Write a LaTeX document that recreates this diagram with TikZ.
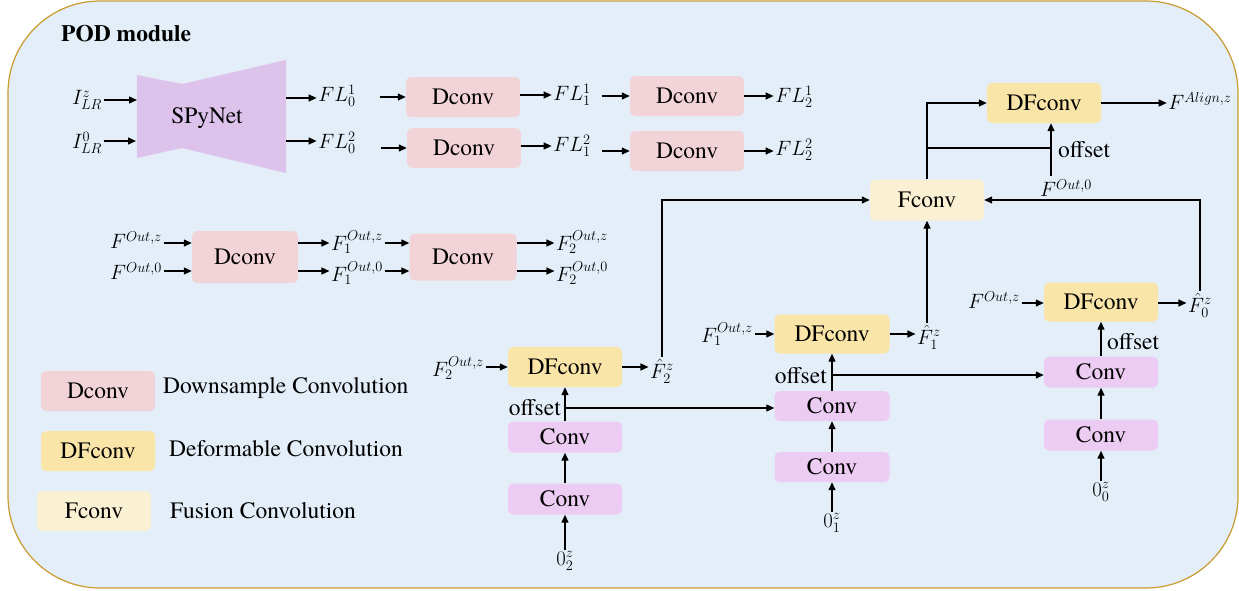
\documentclass[tikz,border=0pt]{standalone}
\usepackage{fontspec}
\IfFontExistsTF{texgyretermes-regular.otf}{%
  \setmainfont{texgyretermes}[Extension=.otf, UprightFont=*-regular, BoldFont=*-bold, ItalicFont=*-italic, BoldItalicFont=*-bolditalic]}{%
  \setmainfont{Latin Modern Roman}}
\usetikzlibrary{arrows.meta,calc}
\definecolor{bgfill}{HTML}{E3EEF8}
\definecolor{bgline}{HTML}{C99A2E}
\definecolor{dcol}{HTML}{F2D3D7}
\definecolor{dfcol}{HTML}{FAE5A8}
\definecolor{fcol}{HTML}{FAF0D3}
\definecolor{ccol}{HTML}{ECCCF2}
\definecolor{spcol}{HTML}{DDC3EC}
\newcommand\fs{\rmfamily\fontsize{23.5}{27}\selectfont}
\newcommand\ms{\fontsize{21}{24}\selectfont}
\tikzset{
  box/.style={rounded corners=5pt, inner sep=0pt, font=\fs, text height=15pt, text depth=1pt},
  dbox/.style={box, fill=dcol, minimum width=114pt, minimum height=40pt},
  dfbox/.style={box, fill=dfcol, minimum width=114pt, minimum height=40pt},
  fbox/.style={box, fill=fcol, minimum width=114pt, minimum height=40pt},
  cbox/.style={box, fill=ccol, minimum width=114pt, minimum height=31pt},
  lbl/.style={font=\ms, inner sep=1.5pt},
  txt/.style={font=\fs, inner sep=0pt, anchor=west},
  arr/.style={line width=1.3pt, -{Triangle[length=8pt,width=7pt]}},
  ln/.style={line width=1.3pt}
}
\begin{document}
\begin{tikzpicture}[x=1pt,y=-1pt]
\useasboundingbox (0,0) rectangle (1239,590);
\draw[fill=bgfill, draw=bgline, line width=1.2pt, rounded corners=92pt] (8,1) rectangle (1238,588);

\node[font=\fs\bfseries, anchor=west, inner sep=0pt] (title) at (61,34) {POD module};

% legend
\node[dbox] (lgD) at (98,391) {Dconv};
\node[txt] (lgDt) at (163,388) {Downsample Convolution};
\node[dfbox] (lgDF) at (98,451) {DFconv};
\node[txt] (lgDFt) at (169,449) {Deformable Convolution};
\node[fbox] (lgF) at (94,511) {Fconv};
\node[txt] (lgFt) at (170,511) {Fusion Convolution};

% SPyNet
\fill[spcol] (137,75) -- (182,84) -- (286,60) -- (286,173) -- (182,148) -- (137,158) -- cycle;
\node[font=\fs, inner sep=0pt] (spy) at (207,118) {SPyNet};
\coordinate (spin1) at (137,100);
\coordinate (spin2) at (136,141);
\coordinate (spout1) at (286,98);
\coordinate (spout2) at (286,141);
\node[lbl] (iz) at (87,100) {$I^{z}_{LR}$};
\node[lbl] (i0) at (87,143) {$I^{0}_{LR}$};
\draw[arr] (iz.east |- spin1) -- (spin1);
\draw[arr] (i0.east |- spin2) -- (spin2);
\node[lbl] (fl01) at (337,96) {$FL_0^1$};
\node[lbl] (fl02) at (337,143) {$FL_0^2$};
\draw[arr] (spout1) -- (spout1 -| fl01.west);
\draw[arr] (spout2) -- (spout2 -| fl02.west);

% flow Dconv rows
\node[dbox] (d11) at (463,97) {Dconv};
\node[dbox] (d21) at (464,148) {Dconv};
\node[dbox] (d12) at (687,96) {Dconv};
\node[dbox] (d22) at (687,151) {Dconv};
\node[lbl] (fl11) at (572,95) {$FL_1^1$};
\node[lbl] (fl12) at (572,146) {$FL_1^2$};
\node[lbl] (fl21) at (794,97) {$FL_2^1$};
\node[lbl] (fl22) at (794,150) {$FL_2^2$};
\draw[arr] ($(d11.west)+(-26,0)$) -- (d11.west);
\draw[arr] ($(d21.west)+(-26,0)$) -- (d21.west);
\draw[arr] (d11.east |- fl11) -- (fl11.west);
\draw[arr] (d21.east |- fl12) -- (fl12.west);
\draw[arr] ($(d12.west)+(-28,0)$) -- (d12.west);
\draw[arr] ($(d22.west)+(-28,0)$) -- (d22.west);
\draw[arr] (d12.east) -- (d12.east -| fl21.west);
\draw[arr] (d22.east) -- (d22.east -| fl22.west);

% F^Out Dconv group
\node[dbox, minimum width=106pt, minimum height=52pt] (dA) at (245,257) {Dconv};
\node[dbox, minimum width=107pt, minimum height=47pt] (dB) at (463,257) {Dconv};
\node[lbl] (fz) at (136,240) {$F^{Out,z}$};
\node[lbl] (f0) at (136,271) {$F^{Out,0}$};
\node[lbl] (f1z) at (357,242) {$F_1^{Out,z}$};
\node[lbl] (f10) at (357,273) {$F_1^{Out,0}$};
\node[lbl] (f2z) at (582,242) {$F_2^{Out,z}$};
\node[lbl] (f20) at (582,273) {$F_2^{Out,0}$};
\coordinate (ra) at (0,243);
\coordinate (rb) at (0,271);
\draw[arr] (fz.east |- ra) -- (dA.west |- ra);
\draw[arr] (f0.east |- rb) -- (dA.west |- rb);
\draw[arr] (dA.east |- ra) -- (f1z.west |- ra);
\draw[arr] (dA.east |- rb) -- (f10.west |- rb);
\draw[arr] (f1z.east |- ra) -- (dB.west |- ra);
\draw[arr] (f10.east |- rb) -- (dB.west |- rb);
\draw[arr] (dB.east |- ra) -- (f2z.west |- ra);
\draw[arr] (dB.east |- rb) -- (f20.west |- rb);

% bottom-left chain
\node[dfbox] (dfL) at (565,367) {DFconv};
\node[cbox] (convL1) at (565,437) {Conv};
\node[cbox] (convL2) at (565,499) {Conv};
\node[lbl] (o2) at (565,561) {$0_2^z$};
\node[lbl] (f2zb) at (458,368) {$F_2^{Out,z}$};
\node[lbl] (hf2) at (662,371) {$\hat{F}_2^z$};
\node[font=\fs, inner sep=0pt, anchor=east] (offL) at (561,408) {offset};
\draw[arr] (o2.north) -- (convL2.south);
\draw[arr] (convL2.north) -- (convL1.south);
\draw[arr] (convL1.north) -- (dfL.south);
\draw[arr] (f2zb.east |- dfL.west) -- (dfL.west);
\draw[arr] (dfL.east) -- (dfL.east -| hf2.west);

% middle chain
\node[dfbox, minimum width=115pt, minimum height=39pt] (dfM) at (832,334) {DFconv};
\node[cbox, minimum width=115pt, minimum height=30pt] (convM1) at (832,406) {Conv};
\node[cbox, minimum width=115pt, minimum height=30pt] (convM2) at (832,467) {Conv};
\node[lbl] (o1) at (832,523) {$0_1^z$};
\node[lbl] (f1zb) at (727,334) {$F_1^{Out,z}$};
\node[lbl] (hf1) at (929,337) {$\hat{F}_1^z$};
\node[font=\fs, inner sep=0pt, anchor=east] (offM) at (827,376) {offset};
\draw[arr] (o1.north) -- (convM2.south);
\draw[arr] (convM2.north) -- (convM1.south);
\draw[arr] (convM1.north) -- (dfM.south);
\draw[arr] (f1zb.east |- dfM.west) -- (dfM.west);
\draw[arr] (dfM.east) -- (dfM.east -| hf1.west);

% right chain
\node[dfbox, minimum height=39pt] (dfR) at (1101,302) {DFconv};
\node[cbox] (convR1) at (1101,372) {Conv};
\node[cbox] (convR2) at (1101,435) {Conv};
\node[lbl] (o0) at (1101,492) {$0_0^z$};
\node[lbl] (fzr) at (994,300) {$F^{Out,z}$};
\node[lbl] (hf0) at (1200,305) {$\hat{F}_0^z$};
\node[font=\fs, inner sep=0pt, anchor=west] (offR) at (1107,342) {offset};
\draw[arr] (o0.north) -- (convR2.south);
\draw[arr] (convR2.north) -- (convR1.south);
\draw[arr] (convR1.north) -- (dfR.south);
\draw[arr] (fzr.east |- 0,303) -- (dfR.west |- 0,303);
\draw[arr] (dfR.east |- 0,303) -- (hf0.west |- 0,303);

% offset cross links
\coordinate (bL) at (565,408);
\coordinate (bM) at (832,375);
\draw[arr] (bL) -- (bL -| convM1.west);
\draw[arr] (bM) -- (bM -| convR1.west);

% fusion and top
\node[fbox, minimum height=41pt] (fconv) at (927,200) {Fconv};
\node[dfbox] (dfT) at (1044,103) {DFconv};
\node[lbl] (falign) at (1200,101) {$F^{Align,z}$};
\node[lbl] (fo0) at (1066,188) {$F^{Out,0}$};
\node[font=\fs, inner sep=0pt, anchor=west] (offT) at (1058,150) {offset};
\draw[arr] (hf2.north) |- (fconv.west);
\draw[arr] (hf1.north -| fconv.south) -- (fconv.south);
\draw[arr] (hf0.north) |- (fconv.east);
\draw[arr] (fconv.north) |- (dfT.west);
\coordinate (bT) at (1051,148);
\coordinate (oT) at (1051,176);
\draw[ln] (fconv.north |- bT) -- (bT);
\draw[arr] (oT) -- (oT |- dfT.south);
\draw[arr] (dfT.east) -- (dfT.east -| falign.west);
\end{tikzpicture}
\end{document}
